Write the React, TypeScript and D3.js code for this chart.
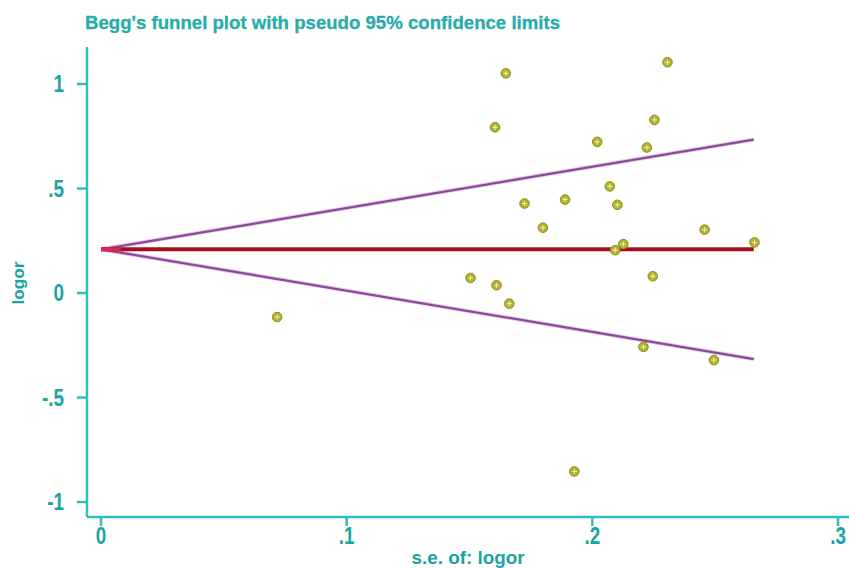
import React, { useEffect, useRef } from 'react';
import * as d3 from 'd3';

// standard error of logor for each study
const seValues = [
  0.1648, 0.2306, 0.1604, 0.2253, 0.2020, 0.2222, 0.2071, 0.1724, 0.1889, 0.2102, 0.1799, 0.2457,
  0.2126, 0.2093, 0.2660, 0.1504, 0.1610, 0.1662, 0.2246, 0.2208, 0.2495, 0.1927, 0.0717
];
// logor for each study
const logorValues = [
  1.051, 1.104, 0.793, 0.828, 0.723, 0.696, 0.510, 0.428, 0.447, 0.422, 0.3125, 0.303,
  0.234, 0.205, 0.242, 0.072, 0.037, -0.051, 0.080, -0.258, -0.321, -0.854, -0.115
];
// pooled estimate and pseudo 95% limits, at se = 0 and at the largest se
const limitSe = [0, 0.2657];
const pooledLine = [0.209, 0.209];
const upperLimit = [0.209, 0.734];
const lowerLimit = [0.209, -0.316];

const xTicks = [0, 0.1, 0.2, 0.3];
const xTickLabels = ['0', '.1', '.2', '.3'];
const yTicks = [1, 0.5, 0, -0.5, -1];
const yTickLabels = ['1', '.5', '0', '-.5', '-1'];

const title = "Begg's funnel plot with pseudo 95% confidence limits";
const xTitle = 's.e. of: logor';
const yTitle = 'logor';

const W = 849;
const H = 568;
const axisColor = '#35bdbd';
const textColor = '#1aa3a3';
const fontFam = '"Liberation Sans Narrow", "Arial Narrow", "Liberation Sans", Arial, sans-serif';

export default function App() {
  const ref = useRef<SVGSVGElement>(null);

  useEffect(() => {
    const svg = d3.select(ref.current);
    svg.selectAll('*').remove();

    const x = d3.scaleLinear().domain([0, 0.3]).range([101, 838]);
    const y = d3.scaleLinear().domain([-1, 1]).range([502, 84]);

    const axisX = 87;
    const axisY = 517;

    // title
    svg.append('text')
      .attr('x', 85)
      .attr('y', 29)
      .attr('font-family', fontFam)
      .attr('font-weight', 'bold')
      .attr('font-size', 19)
      .attr('textLength', 475)
      .attr('lengthAdjust', 'spacingAndGlyphs')
      .attr('fill', '#27abab')
      .attr('stroke', '#27abab')
      .attr('stroke-width', 0.3)
      .text(title);

    // axes lines
    svg.append('line')
      .attr('x1', axisX).attr('x2', axisX)
      .attr('y1', 47).attr('y2', axisY)
      .attr('stroke', axisColor).attr('stroke-width', 2.5);
    svg.append('line')
      .attr('x1', axisX).attr('x2', W)
      .attr('y1', axisY).attr('y2', axisY)
      .attr('stroke', axisColor).attr('stroke-width', 2.5);

    // y ticks
    const yg = svg.append('g');
    yg.selectAll('line')
      .data(yTicks)
      .enter()
      .append('line')
      .attr('x1', 77).attr('x2', axisX)
      .attr('y1', d => y(d)).attr('y2', d => y(d))
      .attr('stroke', axisColor).attr('stroke-width', 2.5);
    yg.selectAll('text')
      .data(yTicks)
      .enter()
      .append('text')
      .attr('transform', d => 'translate(64,' + y(d) + ') scale(0.82,1)')
      .attr('dy', '0.36em')
      .attr('text-anchor', 'end')
      .attr('font-family', fontFam)
      .attr('font-weight', 'bold')
      .attr('font-size', 23)
      .attr('fill', textColor)
      .text((d, i) => yTickLabels[i]);

    // x ticks
    const xg = svg.append('g');
    xg.selectAll('line')
      .data(xTicks)
      .enter()
      .append('line')
      .attr('x1', d => x(d)).attr('x2', d => x(d))
      .attr('y1', axisY).attr('y2', axisY + 9)
      .attr('stroke', axisColor).attr('stroke-width', 2.5);
    xg.selectAll('text')
      .data(xTicks)
      .enter()
      .append('text')
      .attr('transform', d => 'translate(' + x(d) + ',544) scale(0.82,1)')
      .attr('text-anchor', 'middle')
      .attr('font-family', fontFam)
      .attr('font-weight', 'bold')
      .attr('font-size', 23)
      .attr('fill', textColor)
      .text((d, i) => xTickLabels[i]);

    // axis titles
    svg.append('text')
      .attr('x', 468)
      .attr('y', 564)
      .attr('text-anchor', 'middle')
      .attr('font-family', fontFam)
      .attr('font-weight', 'bold')
      .attr('font-size', 18)
      .attr('textLength', 113)
      .attr('lengthAdjust', 'spacingAndGlyphs')
      .attr('fill', textColor)
      .text(xTitle);
    svg.append('text')
      .attr('transform', 'translate(24,283) rotate(-90)')
      .attr('text-anchor', 'middle')
      .attr('font-family', fontFam)
      .attr('font-weight', 'bold')
      .attr('font-size', 17)
      .attr('textLength', 43)
      .attr('lengthAdjust', 'spacingAndGlyphs')
      .attr('fill', textColor)
      .text(yTitle);

    // funnel limits
    const line = d3.line<number>()
      .x((d, i) => x(limitSe[i]))
      .y(d => y(d));
    [upperLimit, lowerLimit].forEach(arr => {
      svg.append('path')
        .attr('d', line(arr))
        .attr('fill', 'none')
        .attr('stroke', '#e8c8ee')
        .attr('stroke-width', 4);
      svg.append('path')
        .attr('d', line(arr))
        .attr('fill', 'none')
        .attr('stroke', '#8a4a98')
        .attr('stroke-width', 2.2);
    });

    // pooled estimate
    svg.append('path')
      .attr('d', line(pooledLine))
      .attr('fill', 'none')
      .attr('stroke', '#a0121c')
      .attr('stroke-width', 4);
    svg.append('line')
      .attr('x1', x(0)).attr('x2', x(0.008))
      .attr('y1', y(pooledLine[0])).attr('y2', y(pooledLine[0]))
      .attr('stroke', '#e0244c')
      .attr('stroke-width', 4);

    // study points
    const pts = svg.append('g')
      .selectAll('g')
      .data(seValues)
      .enter()
      .append('g')
      .attr('transform', (d, i) => 'translate(' + x(d) + ',' + y(logorValues[i]) + ')');
    pts.append('circle')
      .attr('r', 4.8)
      .attr('fill', '#b3b22e')
      .attr('stroke', '#8f8d1c')
      .attr('stroke-width', 1);
    pts.append('path')
      .attr('d', 'M-2.6,0H2.6M0,-2.6V2.6')
      .attr('stroke', '#f1efb8')
      .attr('stroke-width', 1);
  }, []);

  return (
    <svg
      ref={ref}
      width={W}
      height={H}
      style={{ position: 'absolute', left: 0, top: 0, background: '#fff' }}
    />
  );
}
